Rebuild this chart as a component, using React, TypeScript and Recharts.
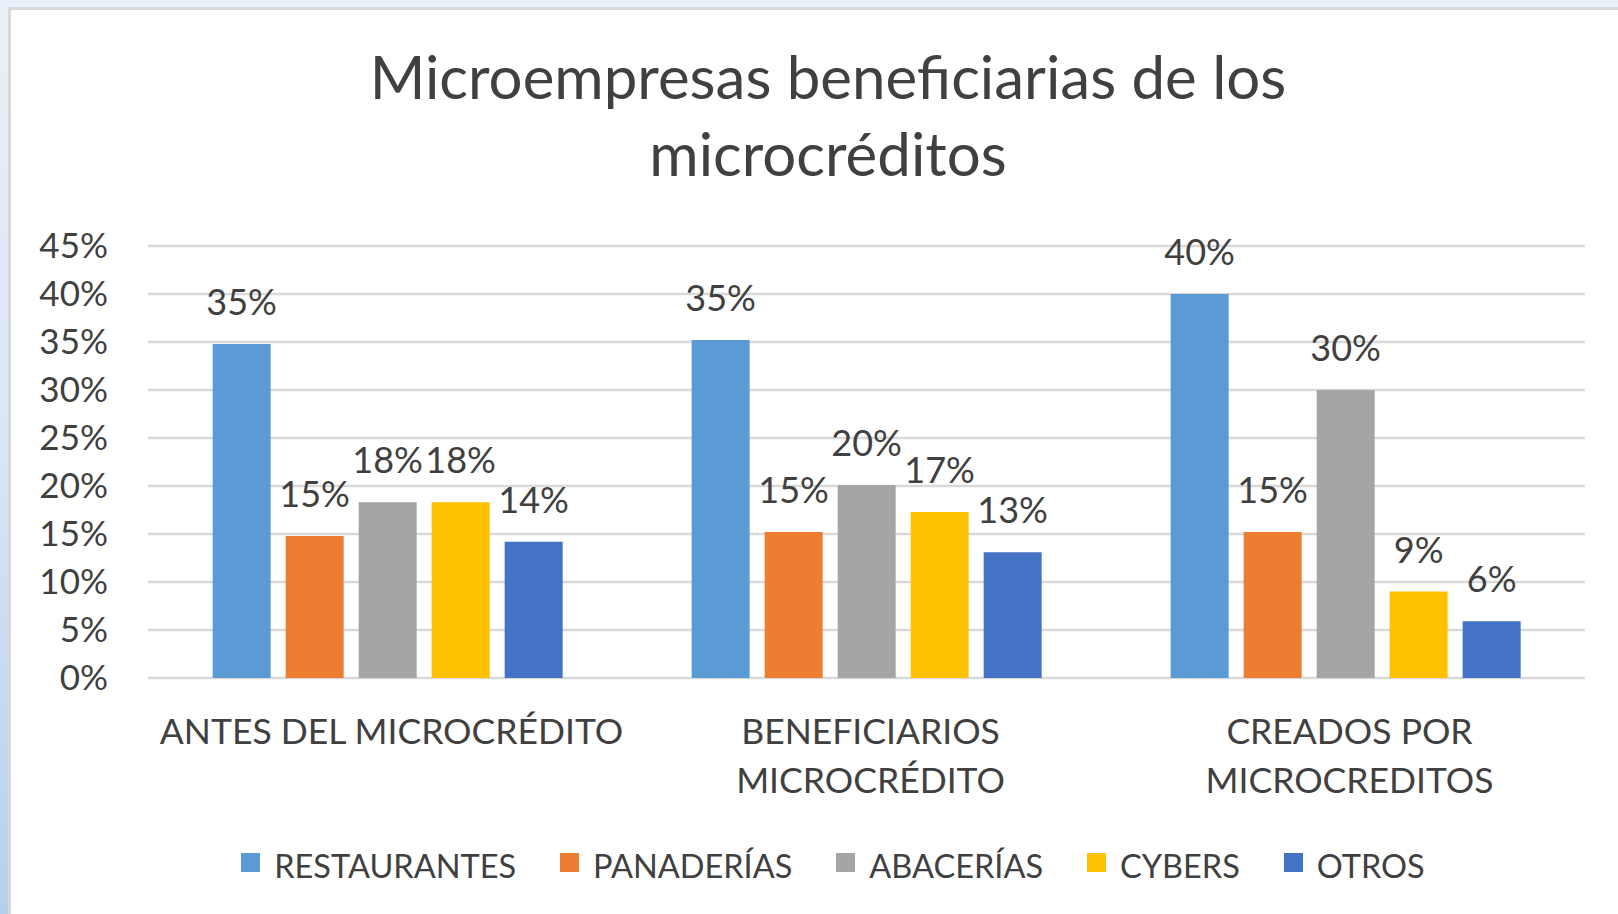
import { Bar, BarChart, CartesianGrid, LabelList, Legend, XAxis, YAxis } from "recharts";

const categories = ["ANTES DEL MICROCRÉDITO", "BENEFICIARIOS MICROCRÉDITO", "CREADOS POR MICROCREDITOS"];
const seriesNames = ["RESTAURANTES", "PANADERÍAS", "ABACERÍAS", "CYBERS", "OTROS"];
const seriesColors = ["#5B9BD5", "#ED7D31", "#A5A5A5", "#FFC000", "#4472C4"];
const restaurantes = [34.8, 35.2, 40.0];
const panaderias = [14.8, 15.2, 15.2];
const abacerias = [18.3, 20.1, 30.0];
const cybers = [18.3, 17.3, 9.0];
const otros = [14.2, 13.1, 5.9];
const yTicks = [0, 5, 10, 15, 20, 25, 30, 35, 40, 45];

const seriesValues = [restaurantes, panaderias, abacerias, cybers, otros];
const data = categories.map((name, i) => {
  const row: Record<string, string | number> = { name };
  seriesValues.forEach((vals, k) => {
    row[`s${k}`] = vals[i];
  });
  return row;
});

const textColor = "#404040";
const font = "Lato, 'Open Sans', sans-serif";

// long labels break at the last space, like the band width forces in the original
const wrapLabel = (label: string) => {
  if (label.length <= 22) return [label];
  const cut = label.lastIndexOf(" ");
  return [label.slice(0, cut), label.slice(cut + 1)];
};

const CategoryTick = ({ x, y, payload }: any) => (
  <text x={x} y={y} textAnchor="middle" fill={textColor} style={{ fontFamily: font, fontSize: 35.5 }}>
    {wrapLabel(String(payload.value)).map((line, i) => (
      <tspan key={i} x={x + 4} y={y + 66 + i * 49}>
        {line}
      </tspan>
    ))}
  </text>
);

const renderLegend = () => (
  <div style={{ display: "flex", justifyContent: "center", alignItems: "center", gap: 44, fontFamily: font, fontSize: 32.5, color: textColor }}>
    {seriesNames.map((n, k) => (
      <div key={n} style={{ display: "flex", alignItems: "center" }}>
        <span style={{ display: "inline-block", width: 19, height: 19, background: seriesColors[k], marginRight: 14, position: "relative", top: -3 }} />
        <span>{n}</span>
      </div>
    ))}
  </div>
);

function App() {
  return (
    <div style={{ position: "absolute", left: 0, top: 0, width: 1618, height: 914, overflow: "hidden", fontFamily: font, background: "linear-gradient(180deg, #e9f0f9 0%, #dbe7f5 45%, #b5d0ec 100%)" }}>
      <div style={{ position: "absolute", left: 8, top: 7, width: 1700, height: 1000, background: "#fff", border: "3px solid #d9d9d9" }} />
      <div style={{ position: "absolute", left: 278, top: 38, width: 1100, textAlign: "center", fontSize: 60, lineHeight: "77px", color: textColor }}>
        Microempresas beneficiarias de los
        <br />
        microcréditos
      </div>
      <div style={{ position: "absolute", left: 0, top: 0 }}>
        <BarChart width={1618} height={914} data={data} margin={{ top: 246, right: 33, bottom: 136, left: 0 }} barCategoryGap="13.5%" barGap={15}>
          <CartesianGrid vertical={false} stroke="#d9d9d9" strokeWidth={2.5} />
          <XAxis dataKey="name" height={100} axisLine={false} tickLine={false} tickSize={0} tickMargin={0} interval={0} tick={<CategoryTick />} />
          <YAxis
            width={148}
            domain={[0, 45]}
            ticks={yTicks}
            tickFormatter={(v: number) => `${v}%`}
            axisLine={false}
            tickLine={false}
            tickSize={0}
            tickMargin={40}
            tick={{ fill: textColor, fontSize: 35, fontFamily: font }}
          />
          <Legend verticalAlign="middle" align="center" layout="horizontal" content={renderLegend} wrapperStyle={{ left: 45, top: 846, width: 1576 }} />
          {seriesNames.map((n, k) => (
            <Bar key={n} dataKey={`s${k}`} name={n} fill={seriesColors[k]} isAnimationActive={false}>
              <LabelList
                dataKey={`s${k}`}
                position="top"
                offset={29}
                formatter={(v: any) => `${Math.round(Number(v))}%`}
                fill={textColor}
                style={{ fontSize: 36, fontFamily: font, fill: textColor }}
              />
            </Bar>
          ))}
        </BarChart>
      </div>
    </div>
  );
}

export default App;
